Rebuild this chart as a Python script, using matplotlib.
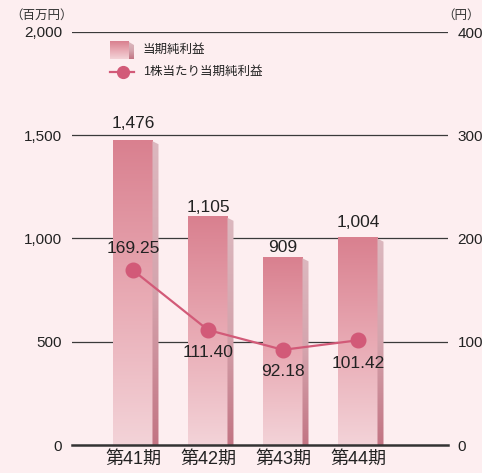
import matplotlib
matplotlib.use("Agg")
import matplotlib.pyplot as plt
import numpy as np
from matplotlib.patches import Polygon
from matplotlib.colors import LinearSegmentedColormap
from matplotlib.ticker import FuncFormatter

plt.rcParams['font.family'] = ['Liberation Sans', 'Noto Sans CJK JP', 'DejaVu Sans']

categories = ['第41期', '第42期', '第43期', '第44期']
net_income = [1476, 1105, 909, 1004]          # 百万円
eps = [169.25, 111.40, 92.18, 101.42]          # 円
left_ticks = [0, 500, 1000, 1500, 2000]
right_ticks = [0, 100, 200, 300, 400]

BG = '#fdeef0'
front_cmap = LinearSegmentedColormap.from_list('f', ['#f3d3d8', '#e8a9b3', '#d9808f'])
side_cmap = LinearSegmentedColormap.from_list('s', ['#c27483', '#d4a4ad', '#dcb8bf'])
LINE_C = '#d25a78'

fig = plt.figure(figsize=(4.82, 4.73), dpi=100, facecolor=BG)
ax = fig.add_axes([72/482, 1-445/473, 376/482, 413/473])
ax.set_facecolor(BG)

x = np.arange(len(categories))
w = 0.52
d = 0.08
px_y = 2000/413.0
grad = np.linspace(0, 1, 256).reshape(-1, 1)

# gridlines
for t in left_ticks[1:]:
    ax.axhline(t, color='#3a3a3a', lw=0.9, zorder=1)
ax.axhline(0, color='#333333', lw=1.8, zorder=6, clip_on=False)

for xi, h in zip(x, net_income):
    x0 = xi - w/2
    x1 = xi + w/2
    ax.imshow(grad, cmap=front_cmap, origin='lower', aspect='auto',
              extent=[x0, x1, 0, h], zorder=2, interpolation='bilinear')
    poly = Polygon([(x1, h - 1*px_y), (x1 + d, h - 4*px_y), (x1 + d, 0), (x1, 0)],
                   closed=True, facecolor='none', edgecolor='none')
    ax.add_patch(poly)
    ims = ax.imshow(grad, cmap=side_cmap, origin='lower', aspect='auto',
                    extent=[x1, x1 + d, 0, h], zorder=2, interpolation='bilinear')
    ims.set_clip_path(poly)

ax.set_xlim(-0.813, 4.2)
ax.set_ylim(0, 2000)

bar_off = [17, 9, 10, 15]
for xi, h, o in zip(x, net_income, bar_off):
    ax.annotate(f'{h:,}', (xi, h), xytext=(0, o*0.72), textcoords='offset points',
                ha='center', va='center', fontsize=12.5, color='#222222', zorder=8)

ax2 = ax.twinx()
ax2.set_ylim(0, 400)
ax2.plot(x, eps, color=LINE_C, lw=1.6, marker='o', markersize=10.5, zorder=7)
lab_off = [22, -23, -22, -23]
for xi, v, o in zip(x, eps, lab_off):
    ax2.annotate(f'{v:.2f}', (xi, v), xytext=(0, o*0.72), textcoords='offset points',
                 ha='center', va='center', fontsize=12.5, color='#222222', zorder=8)

for a in (ax, ax2):
    for s in a.spines.values():
        s.set_visible(False)

ax.set_yticks(left_ticks)
ax.yaxis.set_major_formatter(FuncFormatter(lambda v, p: f'{int(v):,}'))
ax.tick_params(axis='y', length=0, pad=7, labelsize=11, colors='#222222')
ax2.set_yticks(right_ticks)
ax2.tick_params(axis='y', length=0, pad=7, labelsize=11, colors='#222222')
ax.set_xticks(x)
ax.set_xticklabels(categories)
ax.tick_params(axis='x', length=0, pad=4, labelsize=13, colors='#222222')

fig.text(10/482, 1-15/473, '（百万円）', fontsize=9, color='#333333', va='center', ha='left',
         family=['Noto Sans CJK JP'])
fig.text(480/482, 1-15/473, '（円）', fontsize=9, color='#333333', va='center', ha='right',
         family=['Noto Sans CJK JP'])

# legend
lax = fig.add_axes([0, 0, 1, 1], facecolor='none')
lax.axis('off')
lax.imshow(grad, cmap=front_cmap, origin='lower', aspect='auto',
           extent=[110, 129, 59, 41], interpolation='bilinear')
lp = Polygon([(129, 42), (134, 45), (134, 59), (129, 59)], closed=True, fc='none', ec='none')
lax.add_patch(lp)
lim2 = lax.imshow(grad, cmap=side_cmap, origin='lower', aspect='auto',
                  extent=[129, 134, 59, 42], interpolation='bilinear')
lim2.set_clip_path(lp)
lax.text(143, 50, '当期純利益', fontsize=9, va='center', ha='left', color='#222222')
lax.plot([110, 134], [72, 72], color=LINE_C, lw=1.6)
lax.plot([122.5], [72], marker='o', markersize=8.5, color=LINE_C)
lax.text(143, 72, '1株当たり当期純利益', fontsize=9, va='center', ha='left', color='#222222')
lax.set_xlim(0, 482)
lax.set_ylim(473, 0)

fig.savefig('out.png', dpi=100, facecolor=BG)
